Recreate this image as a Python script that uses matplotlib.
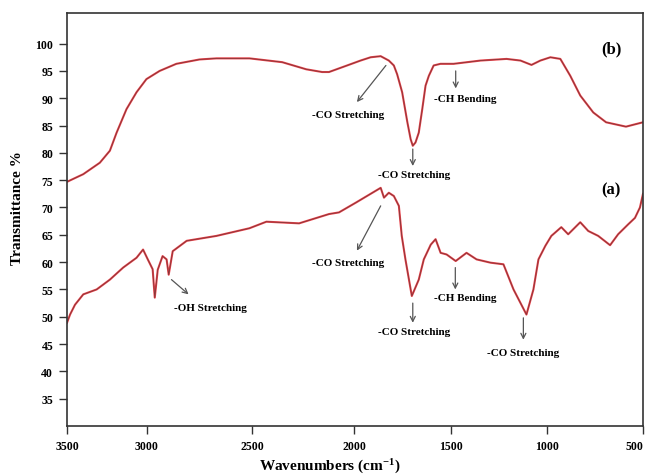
import matplotlib
matplotlib.use('Agg')
import matplotlib.pyplot as plt
import numpy as np

plt.rcParams['font.family'] = ['Liberation Serif', 'DejaVu Serif']
plt.rcParams['font.weight'] = 'bold'
plt.rcParams['mathtext.fontset'] = 'custom'
plt.rcParams['mathtext.rm'] = 'Liberation Serif:bold'
plt.rcParams['mathtext.default'] = 'rm'

# spectrum (b)
wn_b = [3500, 3398, 3294, 3231, 3189, 3127, 3064, 3002, 2939, 2860, 2750, 2670,
        2514, 2353, 2235, 2157, 2123, 2034, 1966, 1914, 1862, 1820, 1794, 1777,
        1751, 1724, 1707, 1696, 1682, 1665, 1647, 1630, 1613, 1588, 1553, 1485,
        1345, 1211, 1139, 1082, 1036, 984, 932, 880, 828, 760, 693, 589, 500]
tr_b = [74.7, 76.1, 78.2, 80.4, 83.7, 88.0, 91.1, 93.5, 95.0, 96.3, 97.1, 97.3,
        97.3, 96.6, 95.3, 94.8, 94.8, 96.0, 96.9, 97.5, 97.7, 96.9, 96.0, 94.4,
        91.1, 85.6, 82.5, 81.3, 81.9, 83.7, 88.0, 92.3, 94.1, 96.0, 96.3, 96.3,
        96.9, 97.2, 96.9, 96.1, 96.9, 97.5, 97.2, 94.1, 90.5, 87.4, 85.6, 84.8, 85.6]

# spectrum (a)
wn_a = [3500, 3481, 3450, 3398, 3314, 3231, 3148, 3064, 3023, 2995, 2972, 2962,
        2948, 2925, 2906, 2896, 2877, 2811, 2670, 2514, 2431, 2270, 2123, 2074,
        1990, 1862, 1845, 1820, 1794, 1768, 1753, 1734, 1701, 1665, 1639, 1603,
        1578, 1552, 1521, 1474, 1418, 1366, 1294, 1227, 1175, 1108, 1072, 1046,
        1010, 979, 927, 891, 828, 786, 734, 672, 630, 578, 542, 516, 500]
tr_a = [48.9, 50.4, 52.2, 54.1, 55.0, 56.8, 59.0, 60.8, 62.3, 60.5, 58.7, 53.5,
        58.6, 61.1, 60.5, 57.7, 62.0, 63.9, 64.8, 66.2, 67.4, 67.1, 68.8, 69.1,
        70.9, 73.6, 71.8, 72.7, 72.1, 70.3, 64.8, 60.5, 53.8, 56.8, 60.5, 63.2,
        64.2, 61.7, 61.4, 60.2, 61.7, 60.5, 59.9, 59.6, 55.0, 50.4, 55.0, 60.5,
        63.0, 64.8, 66.4, 65.1, 67.3, 65.7, 64.8, 63.1, 65.1, 66.9, 68.1, 70.0, 72.5]

# annotations: text, text (wn, T), arrow start, arrow end
labels = ['-CO Stretching', '-CO Stretching', '-CH Bending',
          '-OH Stretching', '-CO Stretching', '-CH Bending', '-CO Stretching',
          '-CO Stretching']
text_pos = [(2029, 87.1), (1691, 76.1), (1423, 89.9),
            (2698, 51.7), (2029, 59.9), (1423, 53.5), (1691, 47.3), (1126, 43.5)]
arrow_from = [(1835, 96.0), (1696, 80.7), (1474, 95.0),
              (2883, 56.8), (1862, 70.3), (1476, 59.0), (1696, 52.5), (1124, 49.8)]
arrow_to = [(1985, 89.3), (1696, 77.6), (1474, 91.8),
            (2802, 54.1), (1985, 62.1), (1476, 55.0), (1696, 48.9), (1124, 45.8)]

xticks = [3500, 3000, 2500, 2000, 1500, 1000, 500]
yticks = [35, 40, 45, 50, 55, 60, 65, 70, 75, 80, 85, 90, 95, 100]

# the original axis is not quite linear between tick marks
scale_wn = [500, 1000, 1500, 2000, 2500, 3000, 3500]
scale_u = [0, 96, 193, 290, 392, 498, 578]


def fwd(x):
    return np.interp(x, scale_wn, scale_u, left=-1e3, right=1e3)


def inv(u):
    return np.interp(u, scale_u, scale_wn)


fig = plt.figure(figsize=(6.45, 4.77), dpi=100)
ax = fig.add_axes([0.1039, 0.1048, 0.8930, 0.8658])
ax.set_xscale('function', functions=(fwd, inv))

for wn, tr in [(wn_a, tr_a), (wn_b, tr_b)]:
    ax.plot(wn, tr, color='#e8222c', lw=1.5, alpha=0.85, solid_joinstyle='round')
    ax.plot(wn, tr, color='#6a3434', lw=0.6, alpha=0.8, solid_joinstyle='round')

for lab, tp, af, at in zip(labels, text_pos, arrow_from, arrow_to):
    ax.annotate('', xy=at, xytext=af,
                arrowprops=dict(arrowstyle='->', color='#555555', lw=0.9,
                                shrinkA=0, shrinkB=0, mutation_scale=9))
    ax.text(tp[0], tp[1], lab, ha='center', va='center', fontsize=8,
            fontweight='bold')

ax.text(667, 99.2, '(b)', ha='center', va='center', fontsize=12, fontweight='bold')
ax.text(667, 73.3, '(a)', ha='center', va='center', fontsize=12, fontweight='bold')

ax.set_xlim(3500, 500)
ax.set_ylim(30, 105.6)
ax.set_xticks(xticks)
ax.set_xticklabels([str(t) for t in xticks])
ax.set_yticks(yticks)
ax.minorticks_off()
ax.tick_params(direction='out', length=6, width=1.0, labelsize=8.5, pad=4,
               color='#333333')
for lbl in ax.get_xticklabels() + ax.get_yticklabels():
    lbl.set_fontweight('bold')
ax.get_xticklabels()[-1].set_horizontalalignment('right')
for sp in ax.spines.values():
    sp.set_color('#333333')
    sp.set_linewidth(1.2)

ax.set_xlabel('Wavenumbers (cm$^{-1}$)', fontsize=11, fontweight='bold')
ax.set_ylabel('Transmittance %', fontsize=11, fontweight='bold')
ax.xaxis.set_label_coords(0.456, -0.075)
ax.yaxis.set_label_coords(-0.075, 0.53)

fig.savefig('out.png', dpi=100)
